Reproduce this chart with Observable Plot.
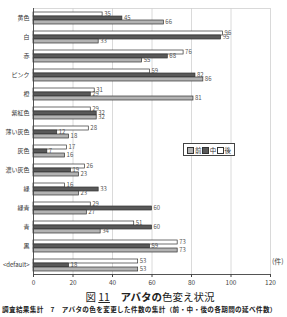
<!DOCTYPE html>
<html><head><meta charset="utf-8">
<script src="https://cdn.jsdelivr.net/npm/d3@7"></script>
<script src="https://cdn.jsdelivr.net/npm/@observablehq/plot@0.6"></script>
<style>
body{margin:0;background:#fff;font-family:"Noto Sans CJK JP","Noto Sans",sans-serif;}
#wrap{position:relative;width:287px;height:317px;overflow:hidden;}
#legend{position:absolute;left:183px;top:143px;width:44px;height:11px;border:1px solid #444;background:#fff;display:flex;align-items:center;justify-content:space-between;padding:0 3px;font-size:6.5px;color:#333;}
#legend span.sw{display:inline-block;width:5px;height:5px;border:0.8px solid #333;margin-right:1px;vertical-align:middle;}
#unit{position:absolute;left:272px;top:256px;font-size:7px;color:#444;white-space:nowrap;}
#title{position:absolute;left:0;width:300px;top:289px;text-align:center;font-size:10.5px;color:#222;}
#cap{position:absolute;left:2px;top:304px;font-size:6.6px;letter-spacing:0.35px;font-weight:bold;color:#222;white-space:nowrap;}
</style></head>
<body><div id="wrap"><div id="chart"></div>
<div id="legend"></div>
<div id="unit">(件)</div>
<div id="title">図 <u>11</u>　<b>アバタの</b>色変え状況</div>
<div id="cap">調査結果集計　7　アバタの色を変更した件数の集計（前・中・後の各期間の延べ件数）</div>
</div>
<script>
const categories = ["黄色","白","赤","ピンク","橙","紫紅色","薄い灰色","灰色","濃い灰色","緑","緑青","青","黒","<default>"];
const seriesNames = ["前","中","後"];
const seriesTopToBottom = ["後","中","前"];
const seriesColors = ["#b3b3b3","#595959","#ffffff"];
const valuesKou = [35,96,76,59,31,29,28,17,26,16,29,51,73,53];
const valuesChu = [45,95,68,82,29,32,12,7,19,33,60,60,59,18];
const valuesZen = [66,33,55,86,81,32,18,16,23,23,27,34,73,53];
const xTicks = [0,20,40,60,80,100,120];
const gridTicks = [20,40,60,80,100];

const data = categories.flatMap((c,i)=>[
  {category:c, series:"後", value:valuesKou[i]},
  {category:c, series:"中", value:valuesChu[i]},
  {category:c, series:"前", value:valuesZen[i]}
]);

const chart = Plot.plot({
  width:287, height:290,
  marginLeft:33, marginRight:17, marginTop:6, marginBottom:15,
  style:{fontFamily:'"Noto Sans CJK JP","Noto Sans",sans-serif', background:"#fff"},
  x:{domain:[0,120], axis:null},
  fy:{domain:categories, padding:0, label:null, axis:null},
  y:{domain:seriesTopToBottom, paddingInner:0, paddingOuter:0.42, axis:null},
  color:{domain:seriesNames, range:seriesColors},
  marks:[
    Plot.ruleX(gridTicks, {stroke:"#d0d0d0", strokeWidth:0.8}),
    Plot.frame({stroke:"#d0d0d0", strokeWidth:0.8, facet:"super"}),
    Plot.barX(data, {x:"value", y:"series", fy:"category", fill:"series", stroke:"#333", strokeWidth:0.7}),
    Plot.text(data, {x:"value", y:"series", fy:"category", text:d=>String(d.value), textAnchor:"start", dx:1.5, fontSize:6, fill:"#555"}),
    Plot.frame({anchor:"left", stroke:"#444", strokeWidth:0.9, facet:"super"}),
    Plot.frame({anchor:"bottom", stroke:"#444", strokeWidth:0.9, facet:"super"}),
    Plot.axisX(xTicks, {anchor:"bottom", tickSize:3, tickPadding:3, fontSize:6.5, fill:"#444", stroke:"#444", label:null}),
    Plot.axisFy({anchor:"left", tickSize:0, tickPadding:4, fontSize:6, fill:"#333", label:null})
  ]
});
document.getElementById("chart").appendChild(chart);

const lg = document.getElementById("legend");
seriesNames.forEach((s,i)=>{
  const it = document.createElement("span");
  it.innerHTML = `<span class="sw" style="background:${seriesColors[i]}"></span>${s}`;
  lg.appendChild(it);
});
</script>
</body></html>
